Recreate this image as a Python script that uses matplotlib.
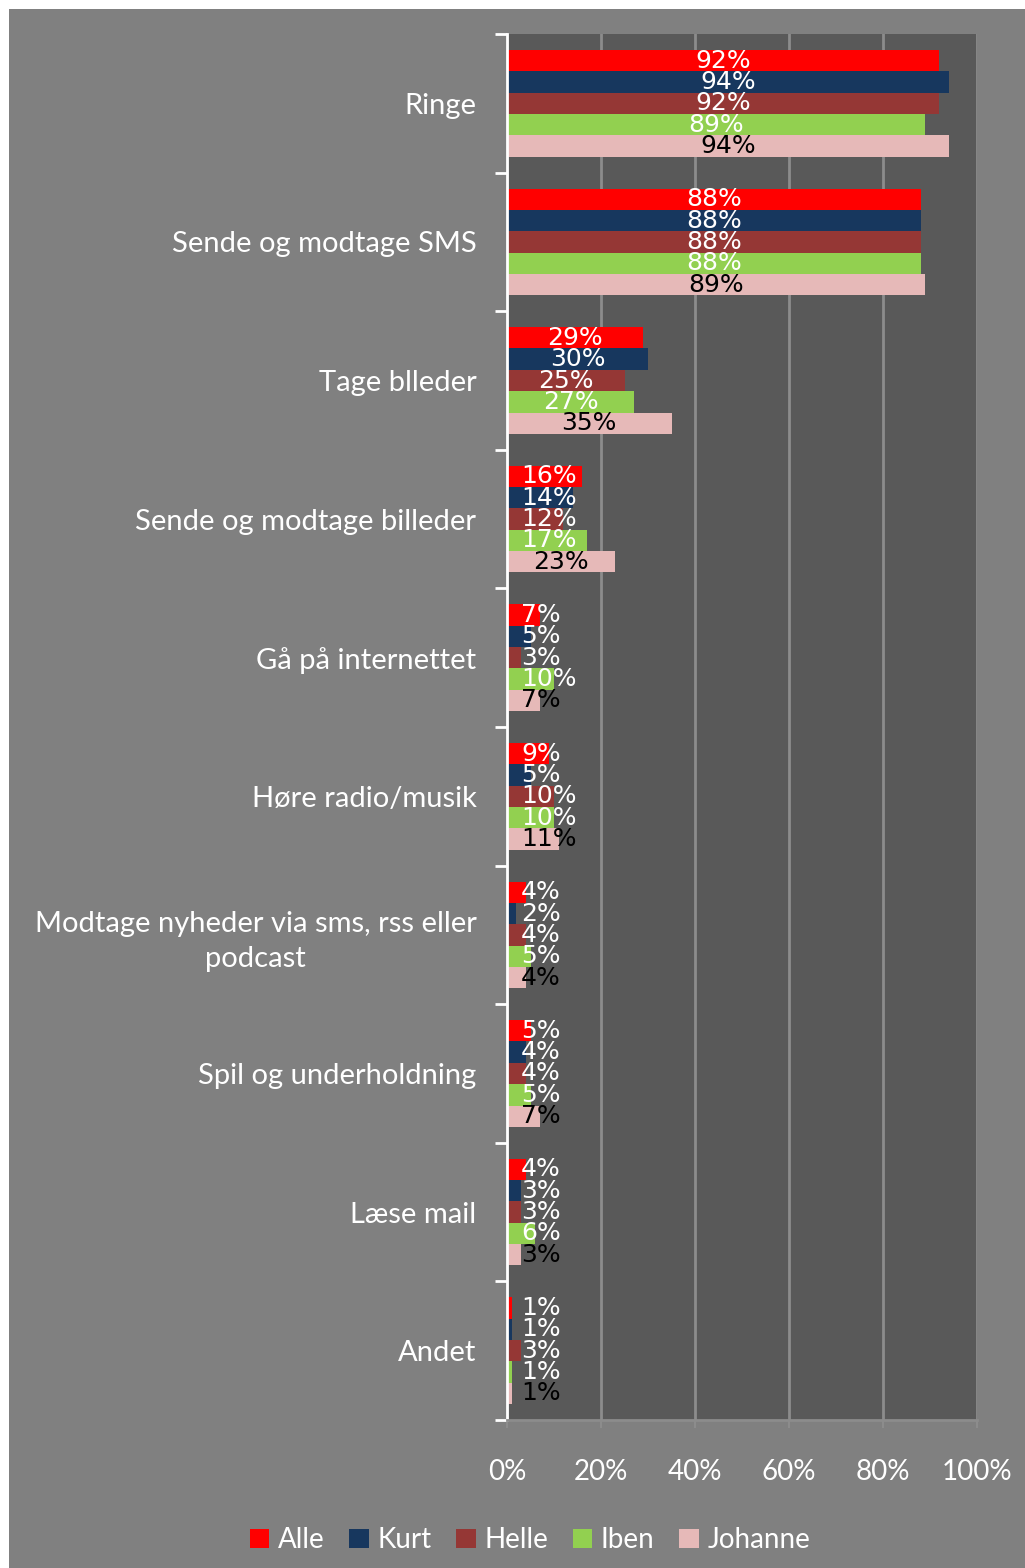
import numpy as np
import matplotlib.pyplot as plt
from matplotlib.patches import Rectangle, Patch

categories = ['Ringe', 'Sende og modtage SMS', 'Tage blleder', 'Sende og modtage billeder',
              'Gå på internettet', 'Høre radio/musik',
              'Modtage nyheder via sms, rss eller\npodcast', 'Spil og underholdning',
              'Læse mail', 'Andet']

alle    = [92, 88, 29, 16, 7, 9, 4, 5, 4, 1]
kurt    = [94, 88, 30, 14, 5, 5, 2, 4, 3, 1]
helle   = [92, 88, 25, 12, 3, 10, 4, 4, 3, 3]
iben    = [89, 88, 27, 17, 10, 10, 5, 5, 6, 1]
johanne = [94, 89, 35, 23, 7, 11, 4, 7, 3, 1]

series = ['Alle', 'Kurt', 'Helle', 'Iben', 'Johanne']
values = [alle, kurt, helle, iben, johanne]
colors = ['#FF0000', '#17375E', '#953735', '#92D050', '#E6B9B8']
label_colors = ['white', 'white', 'white', 'white', 'black']

xticks = [0, 20, 40, 60, 80, 100]
xtick_labels = ['0%', '20%', '40%', '60%', '80%', '100%']

W, H = 1025, 1568
fig = plt.figure(figsize=(W / 100, H / 100), dpi=100)
fig.patch.set_facecolor('white')
# grey chart background
fig.patches.append(Rectangle((9 / W, 0), 1 - 9 / W, 1 - 9 / H, transform=fig.transFigure,
                             facecolor='#808080', edgecolor='none', zorder=-5))

ax = fig.add_axes([507 / W, 1 - 1420 / H, (977 - 507) / W, (1420 - 34) / H])
ax.set_facecolor('#595959')

n = len(categories)
bar_h = 0.154
y = np.arange(n)
for i, (name, vals, c) in enumerate(zip(series, values, colors)):
    ax.barh(y + (i - 2) * bar_h, vals, height=bar_h, color=c, label=name, zorder=2)

ax.set_xlim(0, 100)
ax.set_ylim(n - 0.5, -0.5)

ax.set_xticks(xticks)
ax.set_xticklabels(xtick_labels, fontsize=20, color='white', family='Lato')
ax.tick_params(axis='x', length=6, width=1.5, color='#8c8c8c', pad=22, direction='out')
ax.xaxis.grid(True, color='#8c8c8c', linewidth=2, zorder=1)
ax.set_axisbelow(True)

ax.set_yticks(np.arange(n + 1) - 0.5, minor=False)
ax.set_yticklabels([])
ax.tick_params(axis='y', length=9, width=2, color='white', direction='out')
ax.set_yticks(y, minor=True)
ax.set_yticklabels(categories, minor=True, fontsize=21, color='white', family='Lato',
                   multialignment='center', linespacing=1.4)
ax.tick_params(axis='y', which='minor', length=0, pad=22)

for side in ['top', 'right']:
    ax.spines[side].set_visible(False)
ax.spines['left'].set_color('white')
ax.spines['left'].set_linewidth(2)
ax.spines['bottom'].set_color('#8c8c8c')
ax.spines['bottom'].set_linewidth(2)

# value labels: centred on the bar, pushed right when they would hit the axis
renderer = fig.canvas.get_renderer()
x0 = ax.transData.transform((0, 0))[0]
for i, (vals, tc) in enumerate(zip(values, label_colors)):
    for j, v in enumerate(vals):
        t = ax.text(v / 2, j + (i - 2) * bar_h, f'{v}%', ha='center', va='center',
                    color=tc, fontsize=18, family='DejaVu Sans', zorder=3)
        bb = t.get_window_extent(renderer)
        if bb.x0 < x0 + 14:
            t.set_x(3)
            t.set_ha('left')

handles = [Patch(facecolor=c, edgecolor='none') for c in colors]
fig.legend(handles, series, loc='center', bbox_to_anchor=(530 / W, 1 - 1540 / H),
           ncol=5, frameon=False, labelcolor='white',
           prop={'family': 'Lato', 'size': 20}, handlelength=0.7, handleheight=0.7,
           handletextpad=0.3, columnspacing=0.9)

fig.savefig('out.png', dpi=100)
